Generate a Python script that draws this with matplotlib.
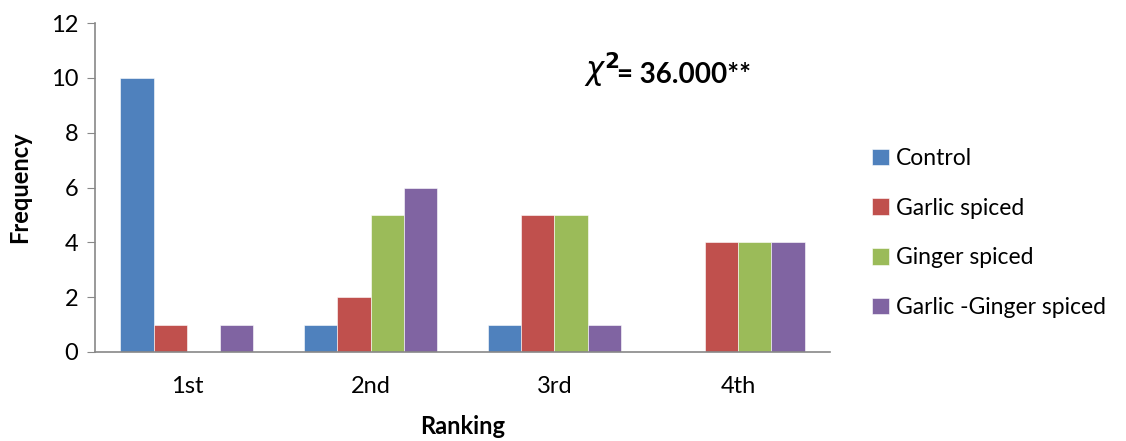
import matplotlib.pyplot as plt
import numpy as np

categories = ["1st", "2nd", "3rd", "4th"]
series_names = ["Control", "Garlic spiced", "Ginger spiced", "Garlic -Ginger spiced"]
control = [10, 1, 1, 0]
garlic = [1, 2, 5, 4]
ginger = [0, 5, 5, 4]
garlic_ginger = [1, 6, 1, 4]
colors = ["#4F81BD", "#C0504D", "#9BBB59", "#8064A2"]

plt.rcParams['font.family'] = ['Lato', 'DejaVu Sans']

fig = plt.figure(figsize=(11.26, 4.41), dpi=100)
ax = fig.add_axes([95 / 1126, 1 - 352 / 441, 735 / 1126, 329 / 441])

x = np.arange(len(categories))
w = 0.181
for i, (vals, name) in enumerate(zip([control, garlic, ginger, garlic_ginger], series_names)):
    ax.bar(x + (i - 1.5) * w, vals, width=w, color=colors[i], label=name,
           edgecolor='white', linewidth=0.4)

ax.set_xlim(-0.5, 3.5)
ax.set_ylim(0, 12)
ax.set_yticks(range(0, 13, 2))
ax.set_xticks(x)
ax.set_xticklabels(categories)
for s in ['top', 'right']:
    ax.spines[s].set_visible(False)
for s in ['left', 'bottom']:
    ax.spines[s].set_color('#888888')
    ax.spines[s].set_linewidth(1.2)
ax.tick_params(axis='y', direction='out', length=6, color='#888888', labelsize=17, pad=6)
ax.tick_params(axis='x', length=0, labelsize=17, pad=17)

ax.set_ylabel("Frequency", fontsize=17, fontweight='bold', labelpad=14)
ax.set_xlabel("Ranking", fontsize=17, fontweight='bold', labelpad=13)

fig.text(584 / 1126, 1 - 70 / 441, r"$\mathit{\chi}^{\mathbf{2}}$", fontsize=22,
         va='center', ha='left')
fig.text(617 / 1126, 1 - 75 / 441, "= 36.000**", fontsize=20, fontweight='bold',
         va='center', ha='left')

fig.legend(loc='center left', bbox_to_anchor=(851 / 1126, 1 - 233 / 441),
           frameon=False, fontsize=16.5, handlelength=0.75, handleheight=0.75,
           handletextpad=0.3, labelspacing=1.25)

fig.savefig("out.png", dpi=100)
